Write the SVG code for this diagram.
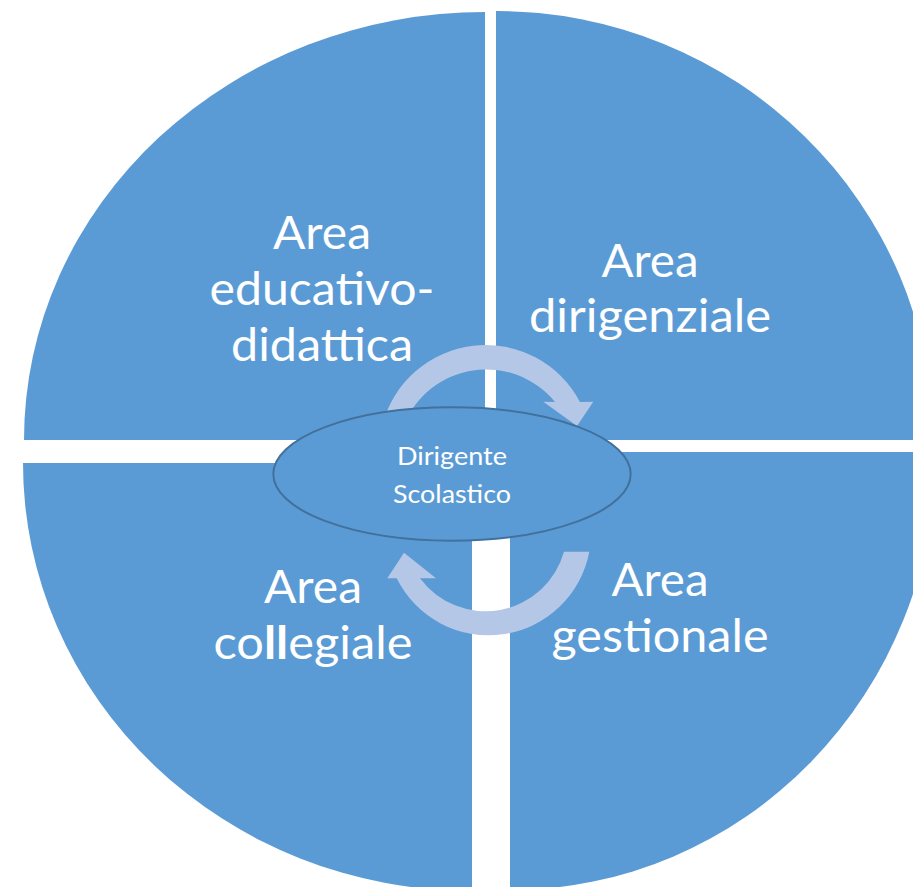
<svg xmlns="http://www.w3.org/2000/svg" width="913" height="887" viewBox="0 0 913 887">
<style>
.q{fill:#5B9BD5;}
.lbl{font-family:Lato,"Liberation Sans",sans-serif;font-size:46px;fill:#FFFFFF;text-anchor:middle;}
.sm{font-family:Lato,"Liberation Sans",sans-serif;font-size:25px;fill:#FFFFFF;text-anchor:middle;}
.arr{fill:#B4C7E7;}
.hub{fill:#5B9BD5;stroke:#41719C;stroke-width:2;}
</style>
<rect width="913" height="887" fill="#FFFFFF"/>
<g id="area-educativo-didattica">
<path class="q" d="M485,440 L24,440 A461 428 0 0 1 485,12 Z"/>
<text class="lbl" x="322" y="249" textLength="98" lengthAdjust="spacingAndGlyphs">Area</text>
<text class="lbl" x="322" y="305" textLength="225" lengthAdjust="spacingAndGlyphs">educativo-</text>
<text class="lbl" x="322" y="361" textLength="182" lengthAdjust="spacingAndGlyphs">didattica</text>
</g>
<g id="area-dirigenziale">
<path class="q" d="M496,440 L496,11 A437 429 0 0 1 933,440 Z"/>
<text class="lbl" x="650" y="277" textLength="97" lengthAdjust="spacingAndGlyphs">Area</text>
<text class="lbl" x="650" y="332" textLength="242" lengthAdjust="spacingAndGlyphs">dirigenziale</text>
</g>
<g id="area-collegiale">
<path class="q" d="M472,463 L472,891 A449 428 0 0 1 23,463 Z"/>
<text class="lbl" x="313" y="603" textLength="98" lengthAdjust="spacingAndGlyphs">Area</text>
<text class="lbl" x="313" y="659" textLength="199" lengthAdjust="spacingAndGlyphs">co<tspan font-weight="bold">ll</tspan>egiale</text>
</g>
<g id="area-gestionale">
<path class="q" d="M510,452 L936,452 A426 438 0 0 1 510,890 Z"/>
<text class="lbl" x="660" y="596" textLength="97" lengthAdjust="spacingAndGlyphs">Area</text>
<text class="lbl" x="660" y="652" textLength="217" lengthAdjust="spacingAndGlyphs">gestionale</text>
</g>
<g id="connectors">
<path class="arr" d="M382.3,425 A106.7 106.7 0 0 1 580,402 L593.3,401.7 L577,426 L543.3,401.7 L555,402 A88.8 88.8 0 0 0 403.9,425 Z"/>
<path class="arr" d="M589.3,551.7 A102.5 102.5 0 0 1 396.7,578.3 L387.3,578.3 L404,552.7 L436,578.3 L420,578.3 A81.5 81.5 0 0 0 564,551.7 Z"/>
</g>
<g id="dirigente-scolastico">
<ellipse class="hub" cx="452" cy="474" rx="178.7" ry="66.7"/>
<text class="sm" x="452" y="465" textLength="110" lengthAdjust="spacingAndGlyphs">Dirigente</text>
<text class="sm" x="452" y="503" textLength="118" lengthAdjust="spacingAndGlyphs">Scolastico</text>
</g>
</svg>
